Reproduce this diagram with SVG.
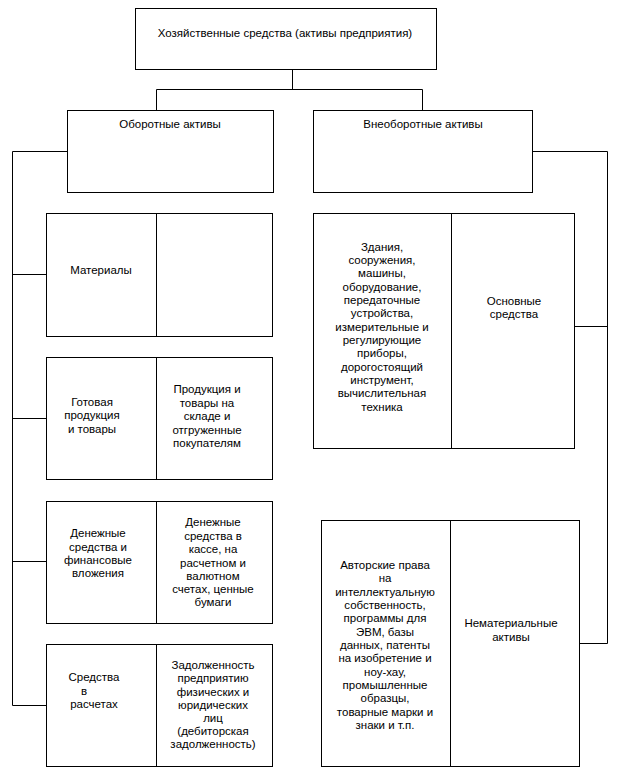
<svg xmlns="http://www.w3.org/2000/svg" width="619" height="781" viewBox="0 0 619 781">
<style>
rect.box{fill:#fff;stroke:#000;stroke-width:1}
line,polyline{stroke:#000;stroke-width:1;fill:none}
text{font-family:"Liberation Sans",Arial,sans-serif;font-size:11.5px;fill:#000;text-anchor:middle}
</style>
<rect width="619" height="781" fill="#fff"/>
<g id="connectors">
<polyline points="292.5,69.5 292.5,89.5"/>
<polyline points="156.5,110.5 156.5,89.5 422.5,89.5 422.5,110.5"/>
<polyline points="67.5,151.5 12.5,151.5 12.5,705.5 46.5,705.5"/>
<line x1="12.5" y1="274.5" x2="46.5" y2="274.5"/>
<line x1="12.5" y1="418.5" x2="46.5" y2="418.5"/>
<line x1="12.5" y1="561.5" x2="46.5" y2="561.5"/>
<polyline points="532.5,151.5 607.5,151.5 607.5,643.5 579.5,643.5"/>
<line x1="574.5" y1="326.5" x2="607.5" y2="326.5"/>
</g>
<g id="root">
<rect class="box" x="135.5" y="8.5" width="301" height="61"/>
<text x="285" y="37">Хозяйственные средства (активы предприятия)</text>
</g>
<g id="current">
<rect class="box" x="67.5" y="110.5" width="206" height="82"/>
<text x="170" y="127.5">Оборотные активы</text>
</g>
<g id="noncurrent">
<rect class="box" x="313.5" y="110.5" width="219" height="82"/>
<text x="423" y="127.5">Внеоборотные активы</text>
</g>
<g id="materials">
<rect class="box" x="46.5" y="213.5" width="226" height="123"/>
<line x1="156.5" y1="213.5" x2="156.5" y2="336.5"/>
<text x="101" y="274">Материалы</text>
</g>
<g id="goods">
<rect class="box" x="46.5" y="357.5" width="226" height="122"/>
<line x1="156.5" y1="357.5" x2="156.5" y2="479.5"/>
<text x="92" y="405.5">Готовая</text>
<text x="92" y="419">продукция</text>
<text x="92" y="432.5">и товары</text>
<text x="207" y="393">Продукция и</text>
<text x="207" y="406.5">товары на</text>
<text x="207" y="420">складе и</text>
<text x="207" y="433.5">отгруженные</text>
<text x="207" y="447">покупателям</text>
</g>
<g id="cash">
<rect class="box" x="46.5" y="501.5" width="226" height="122"/>
<line x1="156.5" y1="501.5" x2="156.5" y2="623.5"/>
<text x="98" y="537">Денежные</text>
<text x="98" y="550.5">средства и</text>
<text x="98" y="564">финансовые</text>
<text x="98" y="577">вложения</text>
<text x="213" y="526">Денежные</text>
<text x="213" y="539.5">средства в</text>
<text x="213" y="553">кассе, на</text>
<text x="213" y="566.5">расчетном и</text>
<text x="213" y="579.5">валютном</text>
<text x="213" y="593">счетах, ценные</text>
<text x="213" y="606">бумаги</text>
</g>
<g id="receivables">
<rect class="box" x="46.5" y="644.5" width="226" height="122"/>
<line x1="156.5" y1="644.5" x2="156.5" y2="766.5"/>
<text x="94" y="681">Средства</text>
<text x="84" y="694.5">в</text>
<text x="94" y="707.5">расчетах</text>
<text x="213" y="669">Задолженность</text>
<text x="213" y="682">предприятию</text>
<text x="213" y="695.5">физических и</text>
<text x="213" y="708.5">юридических</text>
<text x="213" y="721.5">лиц</text>
<text x="213" y="734.5">(дебиторская</text>
<text x="213" y="748">задолженность)</text>
</g>
<g id="fixed">
<rect class="box" x="313.5" y="213.5" width="261" height="235"/>
<line x1="451.5" y1="213.5" x2="451.5" y2="448.5"/>
<text x="382" y="250.5">Здания,</text>
<text x="382" y="264">сооружения,</text>
<text x="382" y="277.3">машины,</text>
<text x="382" y="290.7">оборудование,</text>
<text x="382" y="304">передаточные</text>
<text x="382" y="317.3">устройства,</text>
<text x="382" y="330.7">измерительные и</text>
<text x="382" y="344">регулирующие</text>
<text x="382" y="357.3">приборы,</text>
<text x="382" y="370.7">дорогостоящий</text>
<text x="382" y="384">инструмент,</text>
<text x="382" y="397.3">вычислительная</text>
<text x="382" y="410.7">техника</text>
<text x="514" y="304.5">Основные</text>
<text x="514" y="318">средства</text>
</g>
<g id="intangible">
<rect class="box" x="321.5" y="520.5" width="258" height="246"/>
<line x1="450.5" y1="520.5" x2="450.5" y2="766.5"/>
<text x="385" y="569">Авторские права</text>
<text x="385" y="582.3">на</text>
<text x="385" y="595.7">интеллектуальную</text>
<text x="385" y="609">собственность,</text>
<text x="385" y="622.3">программы для</text>
<text x="385" y="635.7">ЭВМ, базы</text>
<text x="385" y="649">данных, патенты</text>
<text x="385" y="662.3">на изобретение и</text>
<text x="385" y="675.7">ноу-хау,</text>
<text x="385" y="689">промышленные</text>
<text x="385" y="702.3">образцы,</text>
<text x="385" y="715.7">товарные марки и</text>
<text x="385" y="729">знаки и т.п.</text>
<text x="511" y="627.3">Нематериальные</text>
<text x="511" y="640.7">активы</text>
</g>
</svg>
